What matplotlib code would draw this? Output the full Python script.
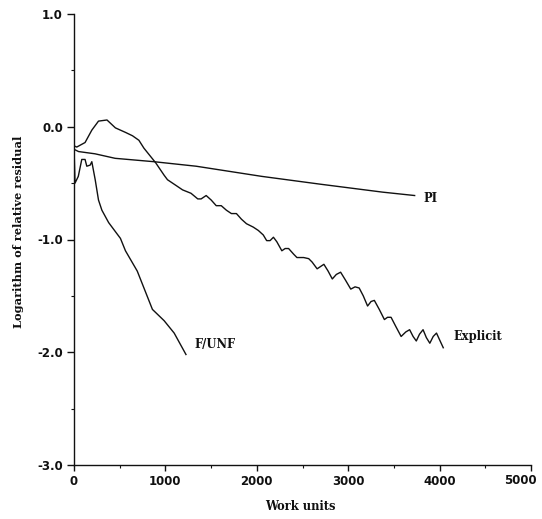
import matplotlib
matplotlib.use('Agg')
import matplotlib.pyplot as plt
from matplotlib.ticker import MultipleLocator, FuncFormatter

# Данные
explicit_x = [0, 2, 30, 121, 195, 268, 361, 453, 563, 640, 710, 765, 894, 986, 1023,
              1115, 1188, 1280, 1354, 1391, 1446, 1501, 1556, 1611, 1667, 1722, 1777,
              1832, 1887, 1961, 2017, 2071, 2108, 2145, 2182, 2219, 2274, 2310, 2348,
              2403, 2439, 2513, 2568, 2605, 2660, 2734, 2780, 2826, 2870, 2917, 2970,
              3028, 3075, 3120, 3165, 3212, 3250, 3286, 3340, 3396, 3430, 3469, 3520,
              3579, 3630, 3672, 3710, 3745, 3780, 3819, 3855, 3893, 3930, 3966, 4000, 4040]
explicit_y = [0.0, -0.17, -0.18, -0.14, -0.03, 0.05, 0.06, -0.01, -0.05, -0.08, -0.12, -0.19,
              -0.32, -0.43, -0.47, -0.52, -0.56, -0.59, -0.64, -0.64, -0.61, -0.65, -0.70,
              -0.70, -0.74, -0.77, -0.77, -0.82, -0.86, -0.89, -0.92, -0.96, -1.01, -1.01,
              -0.98, -1.02, -1.10, -1.08, -1.08, -1.13, -1.16, -1.16, -1.17, -1.20, -1.26,
              -1.22, -1.28, -1.35, -1.31, -1.29, -1.36, -1.44, -1.42, -1.43, -1.50, -1.59,
              -1.55, -1.54, -1.62, -1.71, -1.69, -1.69, -1.77, -1.86, -1.82, -1.80, -1.86,
              -1.90, -1.84, -1.80, -1.87, -1.92, -1.86, -1.83, -1.89, -1.96]

pi_x = [0, 50, 230, 450, 875, 1336, 2053, 2700, 3377, 3727]
pi_y = [-0.20, -0.22, -0.24, -0.28, -0.31, -0.35, -0.44, -0.51, -0.58, -0.61]

funf_x = [0, 11, 47, 85, 121, 140, 177, 195, 232, 268, 305, 379, 471, 508, 563, 692,
          858, 986, 1096, 1225]
funf_y = [-0.18, -0.50, -0.44, -0.29, -0.29, -0.35, -0.34, -0.31, -0.47, -0.65, -0.74,
          -0.85, -0.95, -0.99, -1.10, -1.28, -1.62, -1.72, -1.83, -2.02]

labels = ['Explicit', 'PI', 'F/UNF']
label_pos = [(4150, -1.86), (3819, -0.64), (1313, -1.93)]

x_max = 5000
serif = 'DejaVu Serif'
ink = '#111111'

fig = plt.figure(figsize=(5.42, 5.19), dpi=100)
ax = fig.add_axes([74 / 542, 1 - 465 / 519, 457 / 542, 451 / 519])

line_kw = dict(color=ink, linewidth=1.0, solid_joinstyle='round')
ax.plot(explicit_x, explicit_y, **line_kw)
ax.plot(pi_x, pi_y, **line_kw)
ax.plot(funf_x, funf_y, **line_kw)

for txt, (lx, ly) in zip(labels, label_pos):
    ax.text(lx, ly, txt, fontsize=8.3, fontweight='bold', family=serif,
            ha='left', va='center', color=ink)

ax.set_xlim(0, x_max)
ax.set_ylim(-3.0, 1.0)
ax.xaxis.set_major_locator(MultipleLocator(1000))
ax.xaxis.set_minor_locator(MultipleLocator(500))
ax.yaxis.set_major_locator(MultipleLocator(1.0))
ax.yaxis.set_minor_locator(MultipleLocator(0.5))
ax.yaxis.set_major_formatter(plt.FormatStrFormatter('%.1f'))
# последнюю подпись (5000) рисуем отдельно, выровненной вправо
ax.xaxis.set_major_formatter(FuncFormatter(lambda v, p: '' if v >= x_max else '%d' % v))

ax.spines['top'].set_visible(False)
ax.spines['right'].set_visible(False)
for s in ['left', 'bottom']:
    ax.spines[s].set_linewidth(1.0)
    ax.spines[s].set_color(ink)

ax.tick_params(which='major', direction='out', length=4, width=1.0, colors=ink,
               labelsize=8.5)
ax.tick_params(axis='y', which='major', length=5, pad=3)
ax.tick_params(which='minor', direction='out', length=2.5, width=0.8, colors=ink)
for lab in ax.get_xticklabels() + ax.get_yticklabels():
    lab.set_fontweight('bold')

ax.annotate('%d' % x_max, xy=(x_max, -3.0), xytext=(4, -6.4), textcoords='offset points',
            ha='right', va='top', fontsize=8.5, fontweight='bold', color=ink,
            annotation_clip=False)

fig.text(300 / 542, 1 - 507 / 519, 'Work units', fontsize=8.3, fontweight='bold',
         family=serif, ha='center', va='center', color=ink)
fig.text(19 / 542, 1 - 232 / 519, 'Logarithm of relative residual', fontsize=8.2,
         fontweight='bold', family=serif, rotation=90, ha='center', va='center',
         color=ink)

plt.savefig('out.png', dpi=100)
